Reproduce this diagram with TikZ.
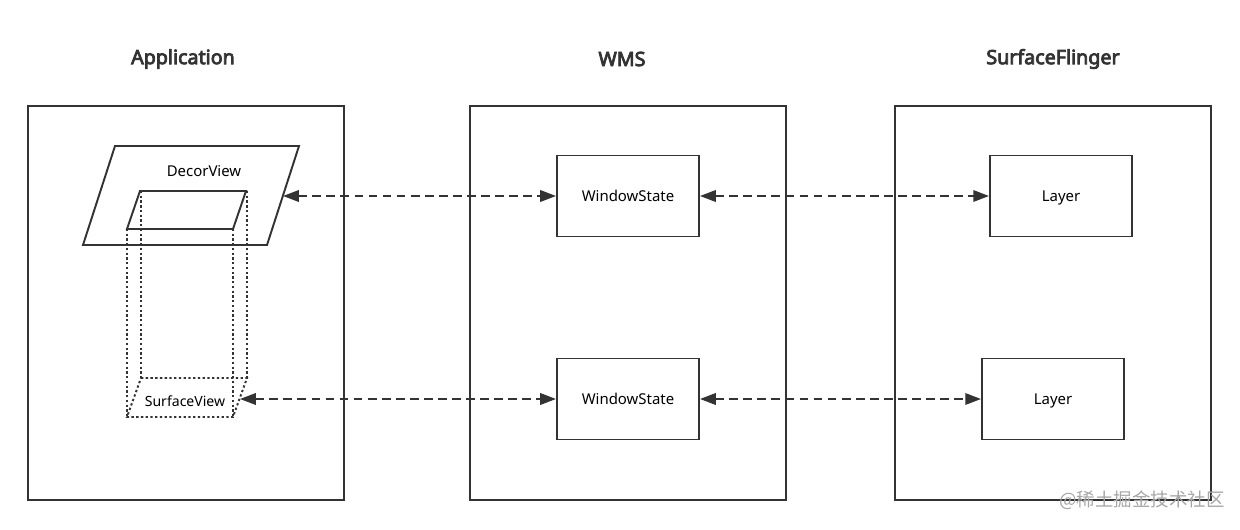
\documentclass[tikz,border=0pt]{standalone}
\usepackage{fontspec}
\setmainfont{Noto Sans}
\newfontfamily\titlefont[FakeBold=4]{Noto Sans}
\newfontfamily\cjkfont{Noto Sans CJK SC}
\usetikzlibrary{arrows.meta}
\definecolor{ink}{HTML}{333333}
\begin{document}
\begin{tikzpicture}[x=0.02cm, y=-0.02cm,
    line width=1.1pt, draw=ink,
    frame/.style={draw=ink, line width=1.1pt},
    box/.style={draw=ink, line width=1.1pt, minimum width=2.84cm, minimum height=1.62cm, inner sep=0pt, text height=6pt, text depth=0pt, font=\fontsize{8.5}{10}\selectfont},
    title/.style={font=\fontsize{11.2}{14}\titlefont, text=ink},
    link/.style={draw=ink, line width=1.2pt, dash pattern=on 5pt off 3pt, {Triangle[length=9pt,width=6.5pt]}-{Triangle[length=9pt,width=6.5pt]}},
    hidden/.style={draw=ink, line width=1.1pt, dash pattern=on 1.3pt off 1.4pt}]
    \useasboundingbox (0,0) rectangle (1240,530);
    % the three processes
    \draw [frame] (28,106) rectangle (344,500);
    \draw [frame] (470,106) rectangle (786,500);
    \draw [frame] (895,106) rectangle (1211,500);
    \node [title] (app) at (183,59) {Application};
    \node [title] (wms) at (622,59) {WMS};
    \node [title] (sf) at (1053,59) {SurfaceFlinger};
    % decor view and the surface view under it
    \draw [hidden] (127,229) -- (127,417);
    \draw [hidden] (141,191) -- (141,378);
    \draw [hidden] (233,229) -- (233,417);
    \draw [hidden] (247,191) -- (247,378);
    \draw [hidden] (141,378) -- (247,378) -- (233,417) -- (127,417) -- cycle;
    \draw [frame] (115,146) -- (299,146) -- (267,245) -- (83,245) -- cycle;
    \draw [frame] (140,191) -- (246,191) -- (233,229) -- (127,229) -- cycle;
    \node [font=\fontsize{8.5}{10}\selectfont] (decor) at (204,171) {DecorView};
    \node [font=\fontsize{8}{10}\selectfont] (surface) at (185,401) {SurfaceView};
    \coordinate (decorEdge) at (283,196);
    \coordinate (surfaceEdge) at (240,399);
    % window states and layers
    \node [box] (ws1) at (628,196) {WindowState};
    \node [box] (ws2) at (628,399) {WindowState};
    \node [box] (layer1) at (1061,196) {Layer};
    \node [box] (layer2) at (1053,399) {Layer};
    \draw [link] (decorEdge) -- (ws1.west);
    \draw [link] (ws1.east) -- (layer1.west);
    \draw [link] (surfaceEdge) -- (ws2.west);
    \draw [link] (ws2.east) -- (layer2.west);
    \node [font=\fontsize{10.5}{12}\selectfont\cjkfont, text=black!35] (mark) at (1142,500) {@稀土掘金技术社区};
\end{tikzpicture}
\end{document}
